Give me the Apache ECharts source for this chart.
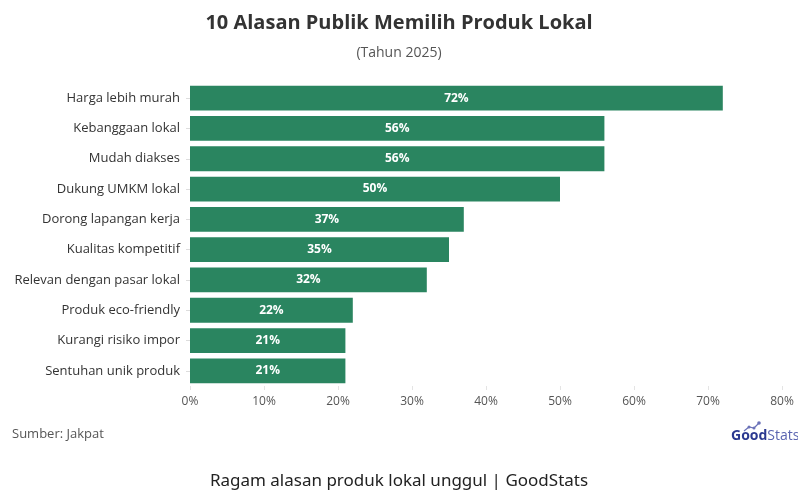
<!DOCTYPE html>
<html>
<head>
<meta charset="utf-8">
<script src="https://cdn.jsdelivr.net/npm/echarts@6/dist/echarts.min.js"></script>
<style>
  html, body { margin: 0; padding: 0; background: #fff; }
  #chart { width: 798px; height: 496px; }
</style>
</head>
<body>
<div id="chart"></div>
<script>
// Reasons listed from top to bottom
const categories = [
  'Harga lebih murah',
  'Kebanggaan lokal',
  'Mudah diakses',
  'Dukung UMKM lokal',
  'Dorong lapangan kerja',
  'Kualitas kompetitif',
  'Relevan dengan pasar lokal',
  'Produk eco-friendly',
  'Kurangi risiko impor',
  'Sentuhan unik produk'
];
// Share of respondents (%)
const values = [72, 56, 56, 50, 37, 35, 32, 22, 21, 21];
// X-axis range and step (%)
const axisMin = 0;
const axisMax = 80;
const axisStep = 10;

const chart = echarts.init(document.getElementById('chart'), null, { renderer: 'canvas' });
const font = '"Open Sans", "Noto Sans", sans-serif';
const footFont = '"Noto Sans", "Open Sans", sans-serif';
const brandBlue = '#2b3990';

chart.setOption({
  backgroundColor: '#ffffff',
  animation: false,
  title: [
    {
      text: '10 Alasan Publik Memilih Produk Lokal',
      left: 'center',
      top: 8,
      textStyle: { fontFamily: font, fontSize: 20, fontWeight: 'bold', color: '#333333' }
    },
    {
      text: '(Tahun 2025)',
      left: 'center',
      top: 41,
      textStyle: { fontFamily: font, fontSize: 14, fontWeight: 'normal', color: '#555555' }
    }
  ],
  grid: { left: 190, right: 16, top: 83, bottom: 110, containLabel: false },
  xAxis: {
    type: 'value',
    min: axisMin,
    max: axisMax,
    interval: axisStep,
    axisLine: { show: false },
    axisTick: { show: true, length: 4, lineStyle: { color: '#e4e4e4' } },
    splitLine: { show: false },
    axisLabel: {
      formatter: '{value}%',
      fontFamily: font,
      fontSize: 12,
      color: '#555555',
      margin: 10
    }
  },
  yAxis: {
    type: 'category',
    data: categories,
    inverse: true,
    axisLine: { show: false },
    axisTick: { show: true, length: 4, alignWithLabel: true, lineStyle: { color: '#dddddd' } },
    axisLabel: { fontFamily: font, fontSize: 13, color: '#333333', margin: 10 }
  },
  series: [{
    type: 'bar',
    data: values,
    barCategoryGap: '18%',
    itemStyle: { color: '#2a8560' },
    label: {
      show: true,
      position: 'inside',
      formatter: '{c}%',
      color: '#ffffff',
      fontFamily: font,
      fontSize: 12,
      fontWeight: 'bold'
    }
  }],
  graphic: [
    {
      type: 'text',
      left: 12,
      top: 428,
      style: { text: 'Sumber: Jakpat', font: '13px ' + font, fill: '#555555' }
    },
    // small trend mark above the brand name
    {
      type: 'polyline',
      shape: { points: [[744, 431], [749, 427], [754, 428], [759, 423]] },
      style: { stroke: '#6b72b8', lineWidth: 1.2, fill: null }
    },
    { type: 'circle', shape: { cx: 749, cy: 427, r: 1.5 }, style: { fill: '#6b72b8' } },
    { type: 'circle', shape: { cx: 754, cy: 428, r: 1.5 }, style: { fill: '#6b72b8' } },
    { type: 'circle', shape: { cx: 759, cy: 423, r: 1.8 }, style: { fill: '#6b72b8' } },
    {
      type: 'text',
      left: 731,
      top: 429,
      style: {
        text: '{g|Good}{s|Stats}',
        rich: {
          g: { fontFamily: font, fontSize: 14, fontWeight: 'bold', fill: brandBlue },
          s: { fontFamily: font, fontSize: 14, fontWeight: 'normal', fill: '#5a64b0' }
        }
      }
    },
    {
      type: 'text',
      left: 'center',
      top: 473,
      style: {
        text: 'Ragam alasan produk lokal unggul | GoodStats',
        font: '17px ' + footFont,
        fill: '#222222'
      }
    }
  ]
});
</script>
</body>
</html>
